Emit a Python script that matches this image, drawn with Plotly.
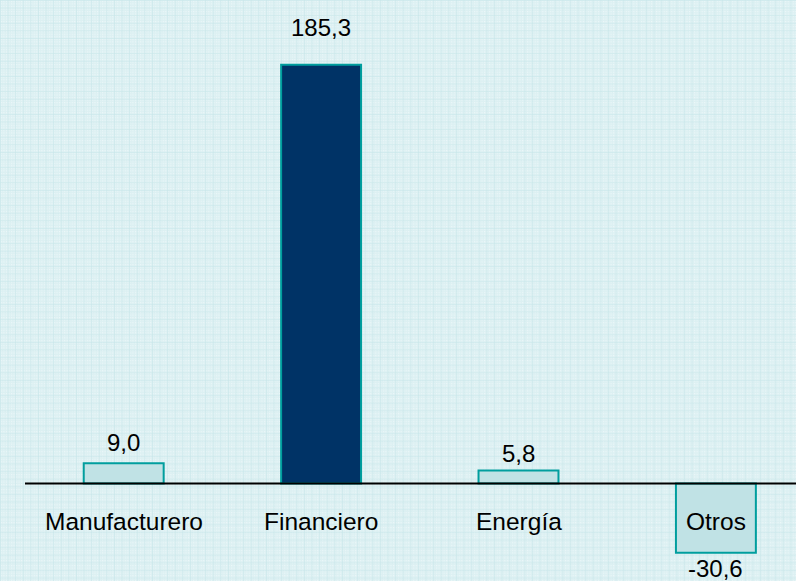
import base64
import plotly.graph_objects as go

# Sector data
categories = ["Manufacturero", "Financiero", "Energía", "Otros"]
values = [9.0, 185.3, 5.8, -30.6]
fill_colors = ["#c0e2e5", "#003366", "#c0e2e5", "#c0e2e5"]

# Pixel gap between each bar end and its value label
label_gap = [21, 37, 17, 16]

W, H = 796, 581
ML = 25

# Graph-paper backdrop as an SVG pattern
cell = 7.6
svg = f'''<svg xmlns="http://www.w3.org/2000/svg" width="{W}" height="{H}">
<defs>
<pattern id="d" width="2.53" height="2.53" patternUnits="userSpaceOnUse">
<rect x="1" y="1" width="0.9" height="0.9" fill="#f4fbfc"/>
</pattern>
<pattern id="g" width="{cell}" height="{cell}" patternUnits="userSpaceOnUse">
<path d="M {cell} 0 L 0 0 0 {cell}" fill="none" stroke="#c6e6e9" stroke-width="1.1"/>
</pattern>
</defs>
<rect width="100%" height="100%" fill="#dcf0f2"/>
<rect width="100%" height="100%" fill="url(#d)"/>
<rect width="100%" height="100%" fill="url(#g)"/>
</svg>'''
bg_uri = "data:image/svg+xml;base64," + base64.b64encode(svg.encode()).decode()

fmt = lambda v: f"{v:.1f}".replace(".", ",")

fig = go.Figure(
    go.Bar(
        x=list(range(len(categories))),
        y=values,
        width=0.405,
        marker=dict(color=fill_colors, line=dict(color="#009e9e", width=2)),
        hoverinfo="skip",
    )
)

value_font = dict(family="Liberation Sans, Arial, sans-serif", size=24, color="#000000")
cat_font = dict(family="Liberation Sans, Arial, sans-serif", size=24.5, color="#000000")

annotations = []
for i, (c, v) in enumerate(zip(categories, values)):
    annotations.append(dict(
        x=i, y=v, xref="x", yref="y", text=fmt(v), showarrow=False,
        yshift=label_gap[i] if v >= 0 else -label_gap[i],
        yanchor="middle", font=value_font,
    ))
    annotations.append(dict(
        x=i, y=0, xref="x", yref="y", text=c, showarrow=False,
        yshift=-38, yanchor="middle", font=cat_font,
    ))

px_per_unit = 197.4
fig.update_layout(
    width=W, height=H,
    margin=dict(l=ML, r=0, t=0, b=0),
    paper_bgcolor="rgba(0,0,0,0)",
    plot_bgcolor="rgba(0,0,0,0)",
    showlegend=False,
    xaxis=dict(range=[-0.5, -0.5 + (W - ML) / px_per_unit], visible=False, fixedrange=True),
    yaxis=dict(range=[-43.1, 213.9], visible=False, fixedrange=True),
    annotations=annotations,
    images=[dict(
        source=bg_uri, xref="paper", yref="paper",
        x=-ML / (W - ML), y=1, sizex=W / (W - ML), sizey=1,
        xanchor="left", yanchor="top", sizing="stretch", layer="below",
    )],
    shapes=[dict(
        type="line", xref="paper", yref="y", x0=0, x1=1, y0=0, y1=0,
        line=dict(color="#000000", width=2), layer="above",
    )],
)

fig.write_html("out.html", config={"displayModeBar": False})
